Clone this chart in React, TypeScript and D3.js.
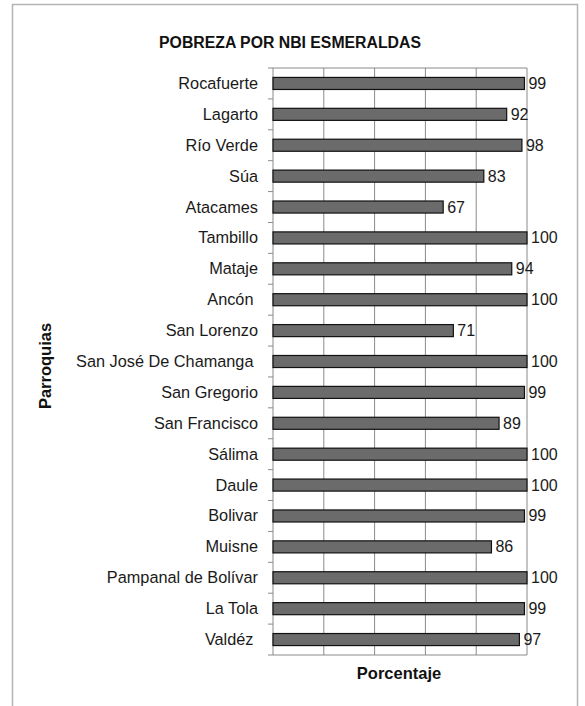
import React from "react";
import * as d3 from "d3";

const categories = [
  "Rocafuerte",
  "Lagarto",
  "Río Verde",
  "Súa",
  "Atacames",
  "Tambillo",
  "Mataje",
  "Ancón ",
  "San Lorenzo",
  "San José De Chamanga ",
  "San Gregorio",
  "San Francisco",
  "Sálima",
  "Daule",
  "Bolivar",
  "Muisne",
  "Pampanal de Bolívar",
  "La Tola",
  "Valdéz ",
];
const values = [99, 92, 98, 83, 67, 100, 94, 100, 71, 100, 99, 89, 100, 100, 99, 86, 100, 99, 97];
const xTicks = [0, 20, 40, 60, 80, 100];

const W = 585;
const H = 706;
const plot = { left: 273, right: 527, top: 68, bottom: 655 };
const font = "Arial, 'Liberation Sans', Helvetica, sans-serif";

export default function App() {
  const x = d3.scaleLinear().domain([0, 100]).range([plot.left, plot.right]);
  const y = d3
    .scaleBand<string>()
    .domain(categories)
    .range([plot.top, plot.bottom])
    .paddingInner(0.61)
    .paddingOuter(0.305);
  const step = y.step();
  const bounds = d3.range(categories.length + 1).map((i) => plot.top + i * step);

  return (
    <svg
      width={W}
      height={H}
      style={{ position: "absolute", left: 0, top: 0, background: "#fff" }}
    >
      <rect x={0} y={0} width={W} height={H} fill="#fff" />
      <rect x={12.5} y={4.5} width={565} height={710} fill="#fff" stroke="#b4b4b4" strokeWidth={1.5} />
      <text
        x={290}
        y={48}
        textAnchor="middle"
        fontFamily={font}
        fontWeight="bold"
        fontSize={15.8}
        fill="#111"
      >
        POBREZA POR NBI ESMERALDAS
      </text>
      {xTicks.map((t) => (
        <line
          key={t}
          x1={x(t)}
          x2={x(t)}
          y1={plot.top}
          y2={plot.bottom}
          stroke="#8a8a8a"
          strokeWidth={1}
        />
      ))}
      <line x1={plot.left} x2={plot.right} y1={plot.top} y2={plot.top} stroke="#8a8a8a" />
      <line x1={plot.left} x2={plot.right} y1={plot.bottom} y2={plot.bottom} stroke="#8a8a8a" />
      {bounds.map((b, i) => (
        <line key={i} x1={plot.left - 5} x2={plot.left} y1={b} y2={b} stroke="#8a8a8a" />
      ))}
      {categories.map((c, i) => (
        <g key={c}>
          <rect
            x={x(0)}
            y={y(c)!}
            width={x(values[i]) - x(0)}
            height={y.bandwidth()}
            fill="#6b6b6b"
            stroke="#111"
            strokeWidth={1.2}
          />
          <text
            x={x(values[i]) + 4}
            y={y(c)! + y.bandwidth() / 2 + 5.5}
            fontFamily={font}
            fontSize={16}
            fill="#1a1a1a"
          >
            {values[i]}
          </text>
          <text
            x={258}
            y={y(c)! + y.bandwidth() / 2 + 5.5}
            textAnchor="end"
            fontFamily={font}
            fontSize={16.3}
            fill="#1a1a1a"
            style={{ whiteSpace: "pre" }}
          >
            {c}
          </text>
        </g>
      ))}
      <text
        transform={`translate(51,366) rotate(-90)`}
        textAnchor="middle"
        fontFamily={font}
        fontWeight="bold"
        fontSize={16.5}
        fill="#111"
      >
        Parroquias
      </text>
      <text
        x={399}
        y={679}
        textAnchor="middle"
        fontFamily={font}
        fontWeight="bold"
        fontSize={16.5}
        fill="#111"
      >
        Porcentaje
      </text>
    </svg>
  );
}
